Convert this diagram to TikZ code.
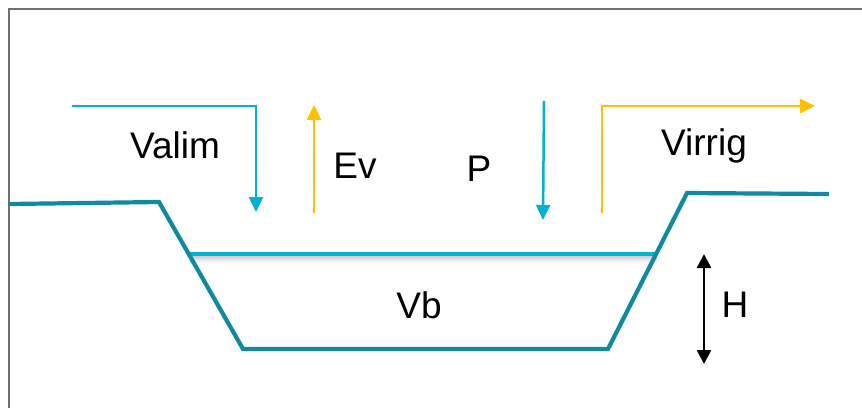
\documentclass[tikz,border=0pt]{standalone}
\usepackage{fontspec}
\setmainfont{Liberation Sans}
\usetikzlibrary{arrows.meta}
\definecolor{ground}{RGB}{16,138,160}
\definecolor{water}{RGB}{0,180,216}
\definecolor{flowblue}{RGB}{0,178,214}
\definecolor{flowyellow}{RGB}{255,192,0}
\definecolor{frame}{RGB}{112,112,112}
\tikzset{
  lbl/.style={font=\fontsize{37}{42}\selectfont, text=black, inner sep=0pt, anchor=center},
  groundline/.style={draw=ground, line width=4.2pt, line join=miter},
  waterline/.style={draw=water, line width=4.5pt},
  bflow/.style={draw=flowblue, line width=2.5pt, -{Triangle[length=15pt,width=14pt]}},
  yflow/.style={draw=flowyellow, line width=2.5pt, -{Triangle[length=15pt,width=14pt]}},
  harrow/.style={draw=black, line width=2.5pt, {Triangle[length=14pt,width=14pt]}-{Triangle[length=14pt,width=14pt]}},
  frameline/.style={draw=frame, line width=2.5pt}
}
\begin{document}
\begin{tikzpicture}[x=1pt,y=-1pt]
\useasboundingbox (0,0) rectangle (862,407);
\fill[white] (0,0) rectangle (862,407);
% frame
\coordinate (fb) at (9,409);
\coordinate (ftl) at (9,9);
\coordinate (fr) at (864,9);
\draw[frameline] (fb) -- (ftl) -- (fr);
% ground profile
\coordinate (g0) at (9,204);
\coordinate (g1) at (159,202);
\coordinate (g2) at (243,349);
\coordinate (g3) at (608,349);
\coordinate (g4) at (687,193);
\coordinate (g5) at (829,194);
% water surface and shadow
\coordinate (wl) at (190,254);
\coordinate (wr) at (657,254);
\foreach \dy/\op in {3/0.30,5/0.20,7/0.10,9/0.05}{
  \draw[black!60, line width=2.5pt, opacity=\op] ([yshift=-\dy pt]wl) -- ([yshift=-\dy pt]wr);
}
\draw[waterline] (wl) -- (wr);
\draw[groundline] (g0) -- (g1) -- (g2) -- (g3) -- (g4) -- (g5);
% Valim
\coordinate (va0) at (72,106);
\coordinate (va1) at (256,106);
\coordinate (va2) at (256,212);
\draw[bflow] (va0) -- (va1) -- (va2);
\node[lbl] (valim) at (175,145) {Valim};
% Ev
\coordinate (ev0) at (314,213);
\coordinate (ev1) at (314,105);
\draw[yflow] (ev0) -- (ev1);
\node[lbl] (ev) at (355,166) {Ev};
% P
\coordinate (p0) at (544,101);
\coordinate (p1) at (543,220);
\draw[bflow] (p0) -- (p1);
\node[lbl] (p) at (479,169) {P};
% Virrig
\coordinate (vi0) at (602,213);
\coordinate (vi1) at (602,106);
\coordinate (vi2) at (815,106);
\draw[yflow] (vi0) -- (vi1) -- (vi2);
\node[lbl] (virrig) at (704,146) {Virrig};
% Vb and H
\node[lbl] (vb) at (419,305) {Vb};
\coordinate (h0) at (704,254);
\coordinate (h1) at (704,364);
\draw[harrow] (h0) -- (h1);
\node[lbl] (h) at (735,305) {H};
\end{tikzpicture}
\end{document}
